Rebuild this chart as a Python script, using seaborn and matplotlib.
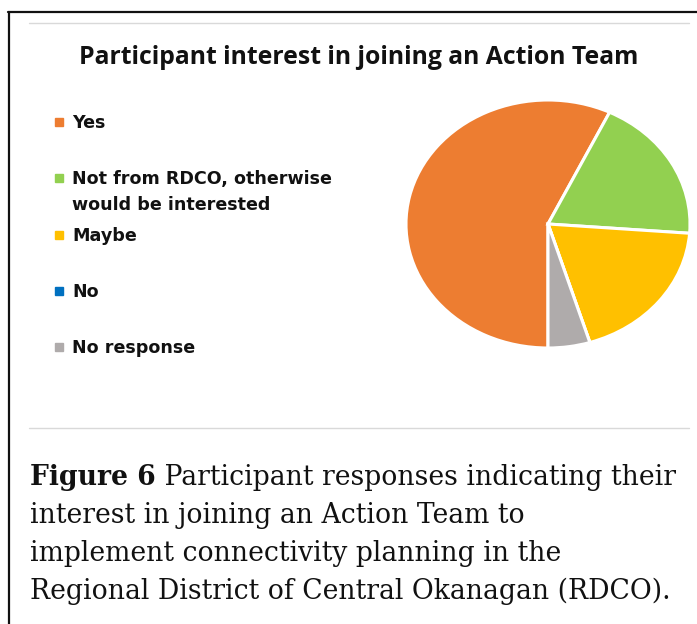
import matplotlib
matplotlib.use("Agg")
import matplotlib.pyplot as plt
import seaborn as sns
from matplotlib.lines import Line2D
from matplotlib.patches import Rectangle

# ---- data ----
categories = ["Yes", "Not from RDCO, otherwise\nwould be interested", "Maybe", "No", "No response"]
counts = [12, 4, 4, 0, 1]
colors = ["#ED7D31", "#92D050", "#FFC000", "#0070C0", "#AFABAB"]
title = "Participant interest in joining an Action Team"
caption_bold = "Figure 6"
caption_lines = [" Participant responses indicating their",
                 "interest in joining an Action Team to",
                 "implement connectivity planning in the",
                 "Regional District of Central Okanagan (RDCO)."]

sns.set_style("white")
W, H = 697, 624
fig = plt.figure(figsize=(W / 100, H / 100), dpi=100)
fig.patch.set_facecolor("white")


def fx(x):
    return x / W


def fy(y):
    return 1 - y / H


# frame lines
fig.add_artist(Line2D([fx(8), fx(697)], [fy(11.5), fy(11.5)], color="#111111", lw=1.6))
fig.add_artist(Line2D([fx(8.5), fx(8.5)], [fy(11.5), fy(624)], color="#111111", lw=1.6))
fig.add_artist(Line2D([fx(29), fx(689)], [fy(22.5), fy(22.5)], color="#D9D9D9", lw=1.0))
fig.add_artist(Line2D([fx(29), fx(689)], [fy(428), fy(428)], color="#D9D9D9", lw=1.0))

# title
fig.text(fx(359), fy(64), title, ha="center", va="baseline",
         fontsize=17.8, fontweight="bold", family="Open Sans", color="#111111")

# pie (elliptical)
ax = fig.add_axes([fx(406), fy(348), 284 / W, 248 / H])
pal = sns.color_palette(colors)
wedges, _ = ax.pie(counts, colors=pal, startangle=270, counterclock=False,
                   wedgeprops=dict(edgecolor="white", linewidth=2.2))
for w in wedges:
    w.set_clip_on(False)
ax.set_aspect("auto")
ax.set_xlim(-1, 1)
ax.set_ylim(-1, 1)
ax.axis("off")

# legend
slot_y = [122, 178, 235, 291, 347]
for lab, col, yy in zip(categories, pal, slot_y):
    fig.add_artist(Rectangle((fx(55), fy(yy + 4)), 8 / W, 8 / H, color=col,
                             transform=fig.transFigure))
    for k, part in enumerate(lab.split("\n")):
        fig.text(fx(72), fy(yy + 6 + 26 * k), part, ha="left", va="baseline",
                 fontsize=12.6, fontweight="bold", family="DejaVu Sans",
                 color="#111111")

# caption
cap_kw = dict(fontsize=19.2, family="DejaVu Serif", color="#111111", va="baseline")
base = [485, 523, 561, 599]
tb = fig.text(fx(30), fy(base[0]), caption_bold, fontweight="bold", **cap_kw)
fig.canvas.draw()
r = fig.canvas.get_renderer()
bb = tb.get_window_extent(r)
fig.text(bb.x1 / W, fy(base[0]), caption_lines[0], **cap_kw)
for line, b in zip(caption_lines[1:], base[1:]):
    fig.text(fx(30), fy(b), line, **cap_kw)

fig.savefig("out.png", dpi=100)
